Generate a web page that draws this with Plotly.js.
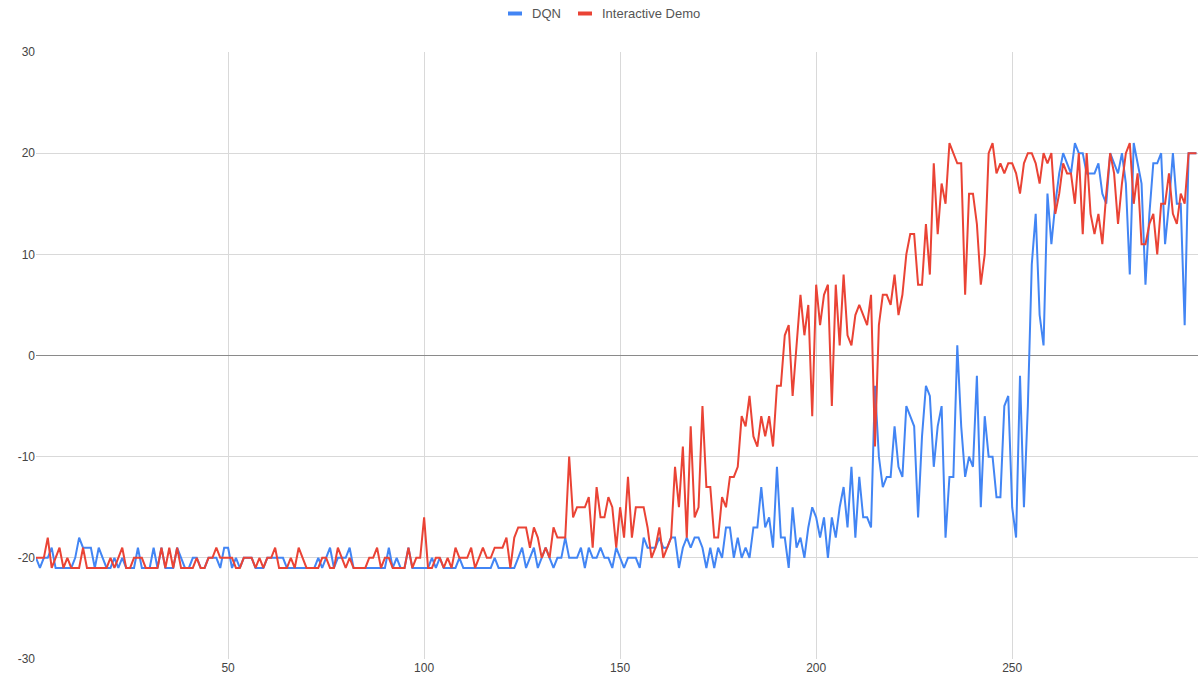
<!DOCTYPE html>
<html>
<head>
<meta charset="utf-8">
<script src="https://cdn.plot.ly/plotly-3.0.1.min.js"></script>
<style>html,body{margin:0;padding:0;background:#fff;}#chart{width:1198px;height:683px;}</style>
</head>
<body>
<div id="chart"></div>
<script>
const seriesNames = ["DQN", "Interactive Demo"];
const seriesColors = ["#4285F4", "#EA4335"];

const dqn = [
  -20,-21,-20,-20,-19,-21,-21,-21,-21,-21,
  -20,-18,-19,-19,-19,-21,-19,-20,-21,-21,
  -20,-21,-20,-21,-21,-21,-19,-21,-21,-21,
  -19,-21,-19,-21,-21,-21,-19,-20,-21,-21,
  -20,-20,-21,-21,-20,-20,-20,-21,-19,-19,
  -21,-20,-21,-20,-20,-20,-21,-21,-21,-20,
  -20,-20,-20,-20,-21,-21,-21,-21,-21,-21,
  -21,-21,-20,-21,-20,-19,-21,-20,-20,-20,
  -19,-21,-21,-21,-21,-21,-21,-21,-21,-21,
  -19,-21,-20,-21,-21,-19,-21,-21,-21,-21,
  -21,-20,-21,-20,-21,-21,-21,-21,-20,-21,
  -21,-21,-21,-21,-21,-21,-21,-20,-21,-21,
  -21,-21,-21,-20,-19,-21,-20,-19,-21,-20,
  -19,-20,-21,-20,-20,-18,-20,-20,-20,-19,
  -21,-19,-20,-20,-19,-20,-20,-21,-19,-20,
  -21,-20,-20,-20,-21,-18,-19,-19,-19,-18,
  -19,-19,-18,-18,-21,-19,-18,-19,-18,-18,
  -19,-21,-19,-21,-19,-20,-17,-17,-20,-18,
  -20,-19,-20,-17,-17,-13,-17,-16,-19,-11,
  -18,-18,-21,-15,-19,-18,-20,-17,-15,-16,
  -18,-16,-20,-16,-18,-15,-13,-17,-11,-18,
  -12,-16,-16,-17,-3,-10,-13,-12,-12,-7,
  -11,-12,-5,-6,-7,-16,-8,-3,-4,-11,
  -7,-5,-18,-12,-12,1,-7,-12,-10,-11,
  -2,-15,-6,-10,-10,-14,-14,-5,-4,-15,
  -18,-2,-15,-5,9,14,4,1,16,11,
  15,18,20,19,18,21,20,20,18,18,
  18,19,16,15,20,19,18,20,17,8,
  21,19,17,7,14,19,19,20,11,15,
  20,15,15,3,20,20,20
];

const demo = [
  -20,-20,-20,-18,-21,-20,-19,-21,-20,-21,
  -21,-21,-19,-21,-21,-21,-21,-21,-21,-20,
  -21,-20,-19,-21,-21,-20,-20,-20,-21,-21,
  -21,-21,-19,-21,-19,-21,-19,-21,-21,-21,
  -21,-20,-21,-21,-20,-20,-19,-20,-20,-20,
  -20,-21,-21,-20,-20,-20,-21,-20,-21,-20,
  -20,-19,-21,-21,-21,-20,-21,-19,-20,-21,
  -21,-21,-21,-20,-20,-21,-21,-19,-20,-21,
  -20,-21,-21,-21,-21,-20,-20,-19,-21,-20,
  -20,-21,-21,-21,-21,-19,-21,-20,-20,-16,
  -21,-21,-20,-20,-21,-20,-21,-19,-20,-20,
  -20,-19,-21,-20,-19,-20,-20,-19,-19,-19,
  -18,-21,-18,-17,-17,-17,-19,-17,-18,-20,
  -19,-20,-17,-18,-18,-18,-10,-16,-15,-15,
  -15,-14,-19,-13,-16,-16,-14,-15,-19,-15,
  -18,-12,-18,-15,-15,-15,-17,-20,-19,-17,
  -20,-19,-18,-11,-15,-9,-18,-7,-16,-15,
  -5,-13,-13,-18,-18,-14,-15,-12,-12,-11,
  -6,-7,-4,-8,-9,-6,-8,-6,-9,-3,
  -3,2,3,-4,1,6,2,5,-6,7,
  3,6,7,-5,7,1,8,2,1,4,
  5,4,3,6,-9,3,6,6,5,8,
  4,6,10,12,12,7,7,13,8,19,
  12,17,15,21,20,19,19,6,16,16,
  13,7,10,20,21,18,19,18,19,19,
  18,16,19,20,20,19,17,20,19,20,
  14,16,19,18,18,15,20,12,20,14,
  12,14,11,16,20,18,13,17,20,21,
  15,18,11,11,13,14,10,15,15,18,
  14,13,16,15,20,20,20
];

const episodes = dqn.map((_, k) => k + 1);

const xTicks = [50, 100, 150, 200, 250];
const yTicks = [-30, -20, -10, 0, 10, 20, 30];

const traces = [
  {x: episodes, y: dqn, name: seriesNames[0], type: "scatter", mode: "lines",
   line: {color: seriesColors[0], width: 2}, showlegend: false},
  {x: episodes, y: demo, name: seriesNames[1], type: "scatter", mode: "lines",
   line: {color: seriesColors[1], width: 2}, showlegend: false}
];

// custom legend (short thick keys like the original)
const W = 1162, H = 607, L = 36, B = 659;
const px = v => (v - L) / W;
const py = v => (B - v) / H;
const legendKeys = [
  {x0: 508, x1: 522, tx: 530},
  {x0: 578, x1: 592, tx: 600}
];
const shapes = legendKeys.map((k, i) => ({
  type: "rect", xref: "paper", yref: "paper",
  x0: px(k.x0), x1: px(k.x1), y0: py(15.5), y1: py(11.5),
  fillcolor: seriesColors[i], line: {width: 0}
}));
const annotations = legendKeys.map((k, i) => ({
  xref: "paper", yref: "paper", x: px(k.tx), y: py(13.5),
  xanchor: "left", yanchor: "middle", showarrow: false,
  text: seriesNames[i], font: {size: 13, color: "#555"}
}));

const layout = {
  width: 1198, height: 683,
  margin: {l: 36, r: 0, t: 52, b: 24, pad: 0},
  paper_bgcolor: "#fff", plot_bgcolor: "#fff",
  font: {family: "Arial, 'Liberation Sans', sans-serif", size: 12, color: "#444"},
  showlegend: false,
  shapes: shapes,
  annotations: annotations,
  xaxis: {range: [1, 297.4], tickvals: xTicks, ticktext: xTicks.map(String),
          showgrid: true, gridcolor: "#d9d9d9", gridwidth: 1, zeroline: false,
          showline: false, ticks: "", ticklen: 0, tickfont: {size: 12, color: "#444"}},
  yaxis: {range: [-30, 30], tickvals: yTicks, ticktext: yTicks.map(String),
          showgrid: true, gridcolor: "#d9d9d9", gridwidth: 1,
          zeroline: true, zerolinecolor: "#8a8a8a", zerolinewidth: 1.5,
          showline: false, ticks: "", tickfont: {size: 12, color: "#444"}}
};

Plotly.newPlot("chart", traces, layout, {displayModeBar: false, staticPlot: true});
</script>
</body>
</html>
